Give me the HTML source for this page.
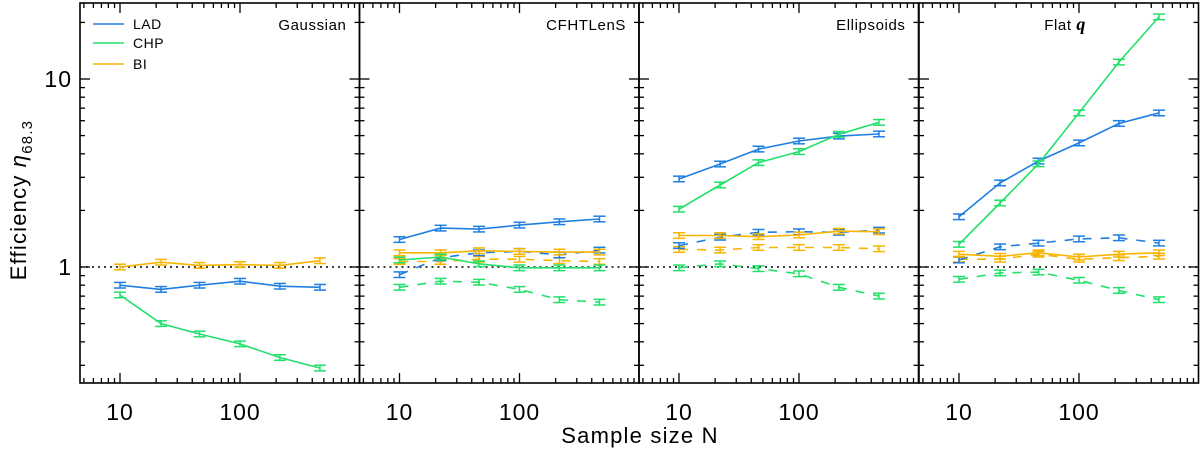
<!DOCTYPE html>
<html><head><meta charset="utf-8"><style>
html,body{margin:0;padding:0;background:#fff;}
svg{display:block;font-family:"Liberation Sans",sans-serif;}
</style></head><body>
<svg id="chart" width="1200" height="449" viewBox="0 0 1200 449" xmlns="http://www.w3.org/2000/svg"></svg>
<script>
const sampleSizes = [10, 22, 46, 100, 215, 464];
const panelTitles = ["Gaussian", "CFHTLenS", "Ellipsoids", "Flat q"];
const ladSolid = [[0.80,0.76,0.80,0.84,0.79,0.78],[1.40,1.61,1.59,1.67,1.74,1.80],[2.94,3.53,4.24,4.68,4.97,5.10],[1.85,2.80,3.66,4.57,5.80,6.60]];
const chpSolid = [[0.71,0.50,0.44,0.39,0.33,0.29],[1.09,1.13,1.04,0.99,0.99,0.99],[2.03,2.73,3.59,4.11,5.08,5.88],[1.32,2.19,3.54,6.60,12.3,21.4]];
const biSolid = [[1.00,1.06,1.02,1.03,1.02,1.08],[1.19,1.19,1.22,1.21,1.20,1.20],[1.47,1.47,1.45,1.48,1.55,1.54],[1.17,1.14,1.19,1.13,1.17,1.19]];
const ladDashed = [null,[0.91,1.12,1.19,1.21,1.16,1.23],[1.30,1.44,1.53,1.54,1.53,1.57],[1.09,1.28,1.34,1.41,1.43,1.34]];
const chpDashed = [null,[0.78,0.84,0.83,0.76,0.67,0.65],[0.99,1.04,0.98,0.92,0.78,0.70],[0.86,0.93,0.94,0.85,0.75,0.67]];
const biDashed = [null,[1.07,1.07,1.10,1.10,1.08,1.07],[1.24,1.23,1.27,1.27,1.27,1.25],[1.10,1.10,1.17,1.10,1.12,1.14]];
const relErr = 0.035;

const svg = document.getElementById('chart');
const NS = 'http://www.w3.org/2000/svg';
const panelLeft = [80, 359.5, 639, 919];
const panelW = 279.5, plotTop = 3, plotBottom = 383;
const BLUE = '#1f7fe0', GREEN = '#22e06a', ORANGE = '#f7b500';
function xs(p, n){ return panelLeft[p] + 40 + (Math.log10(n) - 1) * 120; }
function ys(v){ return 267 - Math.log10(v) * 188; }
function mk(tag, attrs, parent){ const e = document.createElementNS(NS, tag); for (const k in attrs) e.setAttribute(k, attrs[k]); (parent||svg).appendChild(e); return e; }

for (let p = 0; p < 4; p++) {
  const g = mk('g', {});
  
  
  const L = panelLeft[p], R = L + panelW;
  mk('line', {x1:L, x2:R, y1:ys(1), y2:ys(1), stroke:'#000', 'stroke-width':1.5, 'stroke-dasharray':'2,4'}, g);
  const ytk = [0.3,0.4,0.5,0.6,0.7,0.8,0.9,1,2,3,4,5,6,7,8,9,10,20];
  ytk.forEach(v => {
    const maj = (v === 1 || v === 10); const len = maj ? 10 : 5; const y = ys(v);
    mk('line', {x1:L, x2:L+len, y1:y, y2:y, stroke:'#000', 'stroke-width':1.3}, g);
    mk('line', {x1:R, x2:R-len, y1:y, y2:y, stroke:'#000', 'stroke-width':1.3}, g);
  });
  const xt = [5,6,7,8,9,10,20,30,40,50,60,70,80,90,100,200,300,400,500,600,700,800,900];
  xt.forEach(n => {
    const maj = (n === 10 || n === 100); const len = maj ? 10 : 5; const x = xs(p, n);
    if (x <= L || x >= R) return;
    mk('line', {x1:x, x2:x, y1:plotBottom, y2:plotBottom-len, stroke:'#000', 'stroke-width':1.3}, g);
    mk('line', {x1:x, x2:x, y1:plotTop, y2:plotTop+len, stroke:'#000', 'stroke-width':1.3}, g);
  });
  [10,100].forEach(n => {
    const t = mk('text', {x:xs(p,n), y:420, 'font-size':23, 'text-anchor':'middle', fill:'#000', 'letter-spacing':'1'}, g);
    t.textContent = n;
    
    
  });
  const series = [[biDashed,ORANGE,true],[ladDashed,BLUE,true],[chpDashed,GREEN,true],[biSolid,ORANGE,false],[ladSolid,BLUE,false],[chpSolid,GREEN,false]];
  series.forEach(([arr, col, dash]) => {
    const vals = arr[p]; if (!vals) return;
    const pts = vals.map((v,i) => xs(p, sampleSizes[i]).toFixed(1) + ',' + ys(v).toFixed(1)).join(' ');
    const pl = mk('polyline', {points:pts, fill:'none', stroke:col, 'stroke-width':1.6, 'stroke-dasharray': dash ? '9,9' : 'none'}, g);
    
    
    vals.forEach((v,i) => {
      const x = xs(p, sampleSizes[i]); const y1 = ys(v*(1+relErr)), y2 = ys(v/(1+relErr));
      mk('line', {x1:x, x2:x, y1:y1, y2:y2, stroke:col, 'stroke-width':1.5}, g);
      mk('line', {x1:x-6, x2:x+6, y1:y1, y2:y1, stroke:col, 'stroke-width':1.5}, g);
      mk('line', {x1:x-6, x2:x+6, y1:y2, y2:y2, stroke:col, 'stroke-width':1.5}, g);
    });
  });
  mk('rect', {x:L, y:plotTop, width:panelW, height:plotBottom-plotTop, fill:'none', stroke:'#000', 'stroke-width':1.6}, g);
  const tt = mk('text', {x: p === 3 ? 1086 : R-13, y:30, 'font-size':15, 'text-anchor':'end', fill:'#000', 'letter-spacing':'0.6'}, g);
  
  
  if (p === 3) { tt.innerHTML = 'Flat   <tspan font-style="italic" font-weight="bold" font-family="Liberation Serif, serif" font-size="18">q</tspan>'; }
  else tt.textContent = panelTitles[p];
}
[[1,'1'],[10,'10']].forEach(([v,s]) => {
  const t = mk('text', {x:72, y:ys(v)+8, 'font-size':23, 'text-anchor':'end', fill:'#000', 'letter-spacing':'1'});
  t.textContent = s;
  
  
});
const legendNames = ['LAD','CHP','BI'], legendCols = [BLUE, GREEN, ORANGE], legendY = [24,43,64];
legendNames.forEach((n,i) => {
  const g = mk('g', {});
  
  
  mk('line', {x1:93, x2:124, y1:legendY[i], y2:legendY[i], stroke:legendCols[i], 'stroke-width':1.6}, g);
  const t = mk('text', {x:133, y:legendY[i]+5, 'font-size':14, fill:'#000', 'letter-spacing':'0.5'}, g);
  t.textContent = n;
});
const yTitle = mk('text', {x:0, y:0, 'font-size':22, fill:'#000', 'text-anchor':'middle', 'letter-spacing':'1.2', transform:'translate(26,200) rotate(-90)'});
yTitle.innerHTML = 'Efficiency  <tspan font-style="italic">η</tspan><tspan font-size="15" dy="6">68.3</tspan>';


const xtl = mk('text', {x:640, y:443, 'font-size':22, fill:'#000', 'text-anchor':'middle', 'letter-spacing':'1.2'});
xtl.textContent = 'Sample size N';


</script>
</body></html>
